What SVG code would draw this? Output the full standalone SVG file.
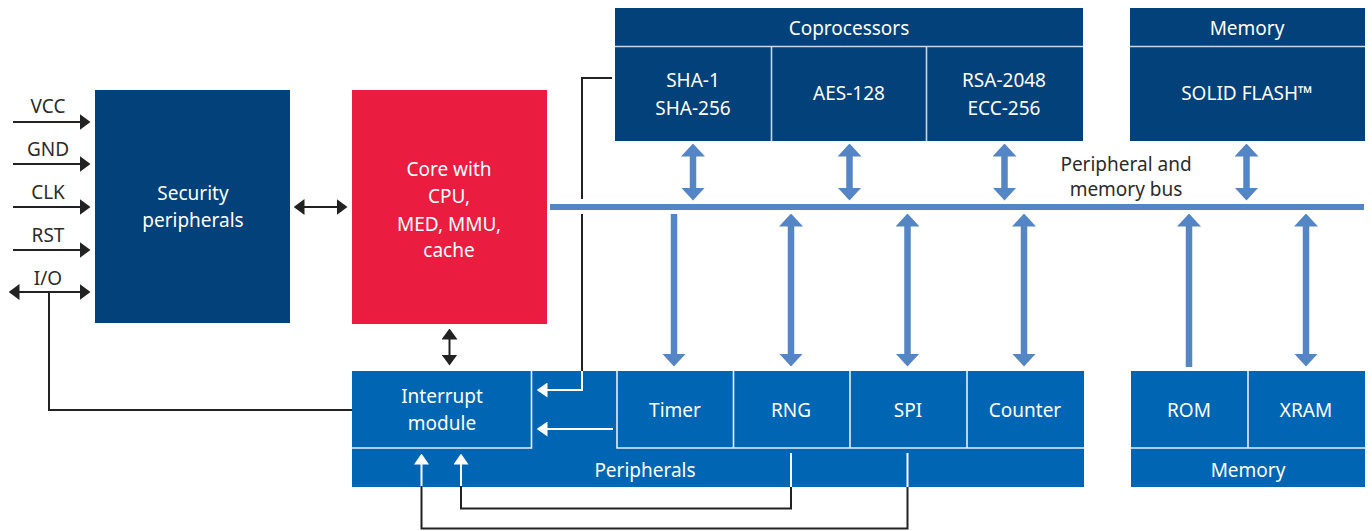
<svg xmlns="http://www.w3.org/2000/svg" width="1372" height="531" viewBox="0 0 1372 531">
<defs>
<style>
text{font-family:"Noto Sans","Liberation Sans",sans-serif;font-size:19px;text-anchor:middle}
.w{fill:#ffffff}
.d{fill:#2b2b2b}
.navy{fill:#03417a}
.blue{fill:#0066b3}
.red{fill:#ea1c40}
.sep{stroke:#c9d6e6;stroke-width:1.6;fill:none}
.wsep{stroke:#e6eef8;stroke-width:1.6;fill:none}
.blk{stroke:#222222;stroke-width:2;fill:none}
.wl{stroke:#ffffff;stroke-width:2;fill:none}
.bar{stroke:#5486c6;stroke-width:6.5;fill:none}
</style>
<marker id="bh" markerUnits="userSpaceOnUse" markerWidth="13" markerHeight="24" refX="0.5" refY="12" orient="auto-start-reverse" viewBox="0 0 13 24"><path d="M0,0 L13,12 L0,24 Z" fill="#5486c6"/></marker>
<marker id="kh" markerUnits="userSpaceOnUse" markerWidth="11" markerHeight="16" refX="0.5" refY="8" orient="auto-start-reverse" viewBox="0 0 11 16"><path d="M0,0 L11,8 L0,16 Z" fill="#222222"/></marker>
<marker id="wh" markerUnits="userSpaceOnUse" markerWidth="11" markerHeight="15" refX="0.5" refY="7.5" orient="auto-start-reverse" viewBox="0 0 11 15"><path d="M0,0 L11,7.5 L0,15 Z" fill="#ffffff"/></marker>
</defs>
<rect width="1372" height="531" fill="#ffffff"/>

<g id="security">
<rect class="navy" x="95" y="90" width="195" height="233"/>
<text class="w" x="193" y="200">Security</text>
<text class="w" x="193" y="227">peripherals</text>
</g>

<g id="core">
<rect class="red" x="352" y="90" width="195" height="234"/>
<text class="w" x="449" y="176">Core with</text>
<text class="w" x="449" y="203">CPU,</text>
<text class="w" x="449" y="231">MED, MMU,</text>
<text class="w" x="449" y="257">cache</text>
</g>

<g id="coprocessors">
<rect class="navy" x="615" y="8" width="468" height="133"/>
<path class="sep" d="M615,46.5 H1083 M771.5,46.5 V141 M926.5,46.5 V141"/>
<text class="w" x="849" y="35">Coprocessors</text>
<text class="w" x="693" y="87">SHA-1</text>
<text class="w" x="693" y="115">SHA-256</text>
<text class="w" x="849" y="100">AES-128</text>
<text class="w" x="1004" y="87">RSA-2048</text>
<text class="w" x="1004" y="115">ECC-256</text>
</g>

<g id="memory-top">
<rect class="navy" x="1130" y="8" width="235" height="133"/>
<path class="sep" d="M1130,46.5 H1365"/>
<text class="w" x="1247" y="35">Memory</text>
<text class="w" x="1247" y="100">SOLID FLASH™</text>
</g>

<g id="bus">
<rect x="550" y="204" width="814" height="6" fill="#5486c6"/>
<text class="d" x="1126" y="171">Peripheral and</text>
<text class="d" x="1126" y="196">memory bus</text>
</g>

<g id="peripherals">
<rect class="blue" x="352" y="371" width="732" height="116"/>
<path class="wsep" d="M531.5,371 V448 H352 M617,371 V448 H1084 M733.5,371 V448 M850,371 V448 M967,371 V448"/>
<text class="w" x="442" y="403">Interrupt</text>
<text class="w" x="442" y="430">module</text>
<text class="w" x="675" y="417">Timer</text>
<text class="w" x="791" y="417">RNG</text>
<text class="w" x="908" y="417">SPI</text>
<text class="w" x="1025" y="417">Counter</text>
<text class="w" x="645" y="477">Peripherals</text>
</g>

<g id="memory-bottom">
<rect class="blue" x="1131" y="371" width="234" height="116"/>
<path class="wsep" d="M1131,448 H1365 M1248,371 V448"/>
<text class="w" x="1189" y="417">ROM</text>
<text class="w" x="1306" y="417">XRAM</text>
<text class="w" x="1248" y="477">Memory</text>
</g>

<g id="pin-labels">
<text class="d" x="48" y="113">VCC</text>
<text class="d" x="48" y="156">GND</text>
<text class="d" x="48" y="199">CLK</text>
<text class="d" x="48" y="242">RST</text>
<text class="d" x="48" y="285">I/O</text>
</g>

<g id="connectors">
<!-- pins -->
<line class="blk" x1="13" y1="122" x2="80" y2="122" marker-end="url(#kh)"/>
<line class="blk" x1="13" y1="164" x2="80" y2="164" marker-end="url(#kh)"/>
<line class="blk" x1="13" y1="207" x2="80" y2="207" marker-end="url(#kh)"/>
<line class="blk" x1="13" y1="250" x2="80" y2="250" marker-end="url(#kh)"/>
<line class="blk" x1="19" y1="292" x2="80" y2="292" marker-start="url(#kh)" marker-end="url(#kh)"/>
<path class="blk" d="M49,292 V410 H352" stroke-width="1.8"/>
<!-- security <-> core -->
<line class="blk" x1="304" y1="207" x2="337" y2="207" marker-start="url(#kh)" marker-end="url(#kh)"/>
<!-- core <-> interrupt -->
<line class="blk" x1="449.5" y1="339" x2="449.5" y2="355" marker-start="url(#kh)" marker-end="url(#kh)"/>
<!-- coprocessor to interrupt -->
<path class="blk" d="M612,78 H582 V199" stroke-width="1.8"/>
<path class="blk" d="M582,214 V371" stroke-width="1.8"/>
<path class="wl" d="M582,371 V390 H547" marker-end="url(#wh)"/>
<path class="wl" d="M613,429 H547" marker-end="url(#wh)"/>
<!-- feedback from RNG / SPI -->
<path class="wl" d="M461,487 V464" marker-end="url(#wh)"/>
<path class="wl" d="M421.5,487 V464" marker-end="url(#wh)"/>
<path class="blk" d="M461,486 V508.5 H791 V486" stroke-width="1.8"/>
<path class="blk" d="M421.5,486 V528.5 H907.5 V486" stroke-width="1.8"/>
<path class="wl" d="M791,487 V453"/>
<path class="wl" d="M907.5,487 V453"/>
<!-- bus arrows top -->
<line class="bar" x1="693" y1="156" x2="693" y2="188" marker-start="url(#bh)" marker-end="url(#bh)"/>
<line class="bar" x1="849.5" y1="156" x2="849.5" y2="188" marker-start="url(#bh)" marker-end="url(#bh)"/>
<line class="bar" x1="1004.5" y1="156" x2="1004.5" y2="188" marker-start="url(#bh)" marker-end="url(#bh)"/>
<line class="bar" x1="1246.5" y1="156" x2="1246.5" y2="188" marker-start="url(#bh)" marker-end="url(#bh)"/>
<!-- bus arrows bottom -->
<line class="bar" x1="674" y1="214" x2="674" y2="354" marker-end="url(#bh)"/>
<line class="bar" x1="791" y1="226" x2="791" y2="354" marker-start="url(#bh)" marker-end="url(#bh)"/>
<line class="bar" x1="907.5" y1="226" x2="907.5" y2="354" marker-start="url(#bh)" marker-end="url(#bh)"/>
<line class="bar" x1="1024" y1="226" x2="1024" y2="354" marker-start="url(#bh)" marker-end="url(#bh)"/>
<line class="bar" x1="1189" y1="367" x2="1189" y2="226" marker-end="url(#bh)"/>
<line class="bar" x1="1306" y1="226" x2="1306" y2="354" marker-start="url(#bh)" marker-end="url(#bh)"/>
</g>
</svg>
